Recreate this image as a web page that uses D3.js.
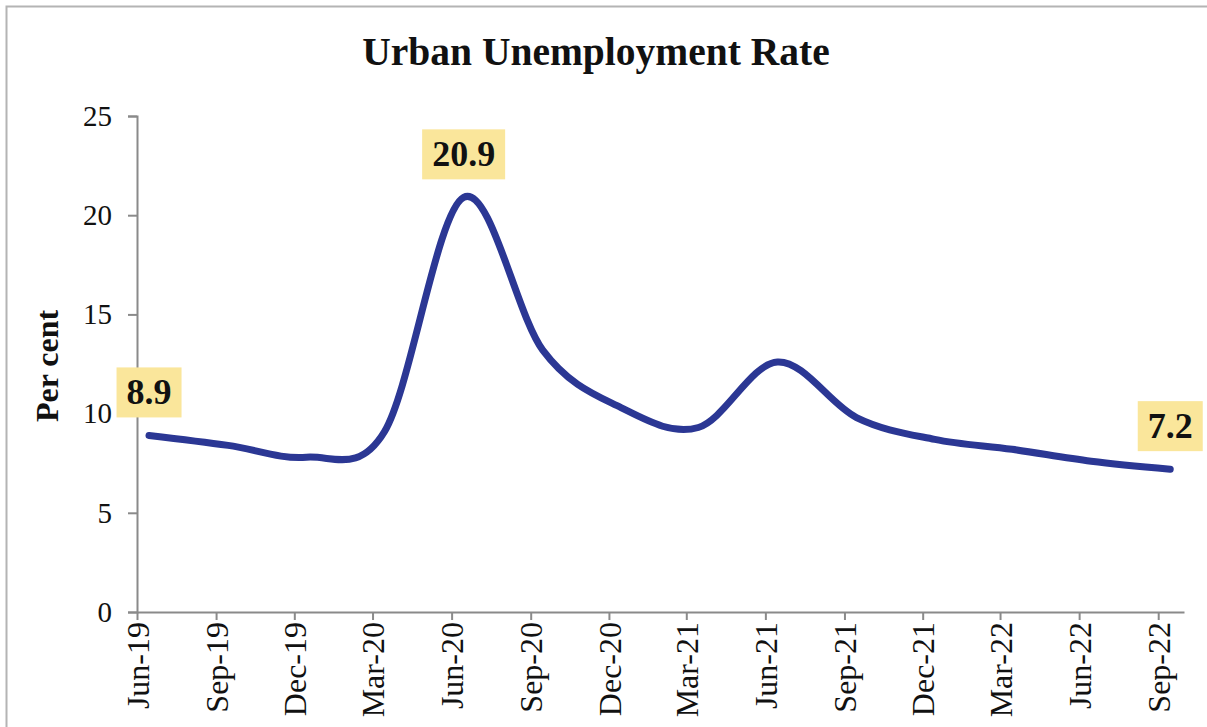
<!DOCTYPE html>
<html>
<head>
<meta charset="utf-8">
<script src="https://cdn.jsdelivr.net/npm/d3@7"></script>
<style>
  html, body { margin: 0; padding: 0; background: #fff; }
  svg { display: block; }
  text { font-family: "Liberation Serif", "Times New Roman", serif; fill: #111; }
</style>
</head>
<body>
<svg id="chart" width="1207" height="727"></svg>
<script>
// Quarter-end labels and urban unemployment rate (per cent)
const quarters = ["Jun-19","Sep-19","Dec-19","Mar-20","Jun-20","Sep-20","Dec-20",
                  "Mar-21","Jun-21","Sep-21","Dec-21","Mar-22","Jun-22","Sep-22"];
const rates = [8.9, 8.4, 7.8, 9.1, 20.9, 13.2, 10.3, 9.3, 12.6, 9.8, 8.7, 8.2, 7.6, 7.2];
const yTicks = [0, 5, 10, 15, 20, 25];
const labelled = ["Jun-19", "Jun-20", "Sep-22"];

const parseQ = d3.timeParse("%b-%y");
const tickDates = quarters.map(parseQ);                  // first day of the month
const pointDates = tickDates.map(d => d3.timeDay.offset(d, 14)); // mid-month
const data = quarters.map((q, i) => ({ q, date: pointDates[i], v: rates[i] }));

const svg = d3.select("#chart");

// Outer frame
svg.append("rect")
  .attr("x", 6.5).attr("y", 6.5)
  .attr("width", 1230).attr("height", 760)
  .attr("fill", "none").attr("stroke", "#b4b4b4").attr("stroke-width", 2);

const x = d3.scaleTime()
  .domain([tickDates[0], d3.timeMonth.offset(tickDates[tickDates.length - 1], 1)])
  .range([137, 1184]);
const y = d3.scaleLinear().domain([0, 25]).range([612, 116]);

// Title
svg.append("text")
  .attr("x", 596).attr("y", 65)
  .attr("text-anchor", "middle")
  .style("font-size", "39.5px").style("font-weight", "bold")
  .text("Urban Unemployment Rate");

// Y axis
const yAxis = svg.append("g")
  .attr("transform", "translate(137,0)")
  .call(d3.axisLeft(y).tickValues(yTicks).tickSize(9).tickPadding(16));
yAxis.selectAll("text").style("font-size", "29px");

// X axis
const xAxis = svg.append("g")
  .attr("transform", "translate(0,612)")
  .call(d3.axisBottom(x).tickValues(tickDates).tickFormat((d, i) => quarters[i])
        .tickSize(8).tickSizeOuter(0));
xAxis.selectAll("text")
  .style("font-size", "32px")
  .attr("text-anchor", "end")
  .attr("transform", "rotate(-90)")
  .attr("x", -10).attr("y", 0).attr("dy", "0.35em");

[yAxis, xAxis].forEach(g => {
  g.select(".domain").attr("stroke", "#8a8a8a").attr("stroke-width", 2);
  g.selectAll(".tick line").attr("stroke", "#8a8a8a").attr("stroke-width", 2);
});

// Y axis title
svg.append("text")
  .attr("transform", "translate(58,366) rotate(-90)")
  .attr("text-anchor", "middle")
  .style("font-size", "32px").style("font-weight", "bold")
  .text("Per cent");

// Smoothed series line
const line = d3.line()
  .x(d => x(d.date))
  .y(d => y(d.v))
  .curve(d3.curveCardinal.tension(0));

svg.append("path")
  .datum(data)
  .attr("d", line)
  .attr("fill", "none")
  .attr("stroke", "#2b3794")
  .attr("stroke-width", 7)
  .attr("stroke-linecap", "round")
  .attr("stroke-linejoin", "round");

// Highlighted value labels
const labels = svg.append("g").selectAll("g")
  .data(data.filter(d => labelled.includes(d.q)))
  .join("g")
  .attr("transform", d => `translate(${x(d.date)},${y(d.v) - 18})`);

labels.each(function(d) {
  const g = d3.select(this);
  const t = g.append("text")
    .attr("text-anchor", "middle")
    .attr("y", -13)
    .style("font-size", "36px").style("font-weight", "bold")
    .text(d3.format(".1f")(d.v));
  const w = t.node().getComputedTextLength() + 20;
  g.insert("rect", "text")
    .attr("x", -w / 2).attr("y", -50)
    .attr("width", w).attr("height", 50)
    .attr("fill", "#fae69b");
});
</script>
</body>
</html>
